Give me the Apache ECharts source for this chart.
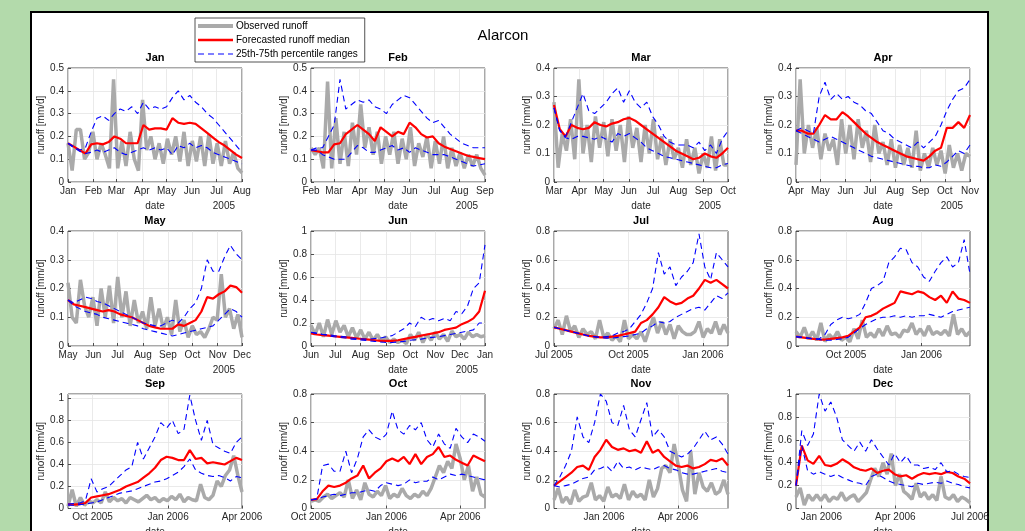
<!DOCTYPE html>
<html><head><meta charset="utf-8">
<script src="https://cdn.jsdelivr.net/npm/echarts@6/dist/echarts.min.js"></script>
<style>
html,body{margin:0;padding:0;width:1025px;height:531px;overflow:hidden;background:#b3daab;}
#frame{position:absolute;left:30px;top:11px;width:955px;height:560px;border:2px solid #000;background:#fff;}
#chart{position:absolute;left:0;top:0;width:1025px;height:531px;}
</style></head><body>
<div id="frame"></div><div id="chart"></div>
<script>
// ---------- DATA ----------
const panelNames = ['Jan','Feb','Mar','Apr','May','Jun','Jul','Aug','Sep','Oct','Nov','Dec'];
const panelStart = ['2005-01-01','2005-02-01','2005-03-01','2005-04-01','2005-05-01','2005-06-01','2005-07-01','2005-08-01','2005-09-01','2005-10-01','2005-11-01','2005-12-01'];
const panelEnd   = ['2005-08-01','2005-09-01','2005-10-01','2005-11-01','2005-12-01','2006-01-01','2006-02-01','2006-03-01','2006-04-01','2006-05-01','2006-06-01','2006-07-01'];
const yMax  = [0.5,0.5,0.4,0.4,0.4,1,0.8,0.8,1.04,0.8,0.8,1];
const yStep = [0.1,0.1,0.1,0.1,0.1,0.2,0.2,0.2,0.2,0.2,0.2,0.2];
const yearLabel = ['2005','2005','2005','2005','2005','2005','','','','','',''];
const legendNames = ['Observed runoff','Forecasted runoff median','25th-75th percentile ranges'];
const mainTitle = 'Alarcon';
const xName = 'date';
const yName = 'runoff [mm/d]';

const xTicks_Jan = ['2005-01-01','2005-02-01','2005-03-01','2005-04-01','2005-05-01','2005-06-01','2005-07-01','2005-08-01'];
const xLabels_Jan = ['Jan','Feb','Mar','Apr','May','Jun','Jul','Aug'];
const xTicks_Feb = ['2005-02-01','2005-03-01','2005-04-01','2005-05-01','2005-06-01','2005-07-01','2005-08-01','2005-09-01'];
const xLabels_Feb = ['Feb','Mar','Apr','May','Jun','Jul','Aug','Sep'];
const xTicks_Mar = ['2005-03-01','2005-04-01','2005-05-01','2005-06-01','2005-07-01','2005-08-01','2005-09-01','2005-10-01'];
const xLabels_Mar = ['Mar','Apr','May','Jun','Jul','Aug','Sep','Oct'];
const xTicks_Apr = ['2005-04-01','2005-05-01','2005-06-01','2005-07-01','2005-08-01','2005-09-01','2005-10-01','2005-11-01'];
const xLabels_Apr = ['Apr','May','Jun','Jul','Aug','Sep','Oct','Nov'];
const xTicks_May = ['2005-05-01','2005-06-01','2005-07-01','2005-08-01','2005-09-01','2005-10-01','2005-11-01','2005-12-01'];
const xLabels_May = ['May','Jun','Jul','Aug','Sep','Oct','Nov','Dec'];
const xTicks_Jun = ['2005-06-01','2005-07-01','2005-08-01','2005-09-01','2005-10-01','2005-11-01','2005-12-01','2006-01-01'];
const xLabels_Jun = ['Jun','Jul','Aug','Sep','Oct','Nov','Dec','Jan'];
const xTicks_Jul = ['2005-07-01','2005-10-01','2006-01-01'];
const xLabels_Jul = ['Jul 2005','Oct 2005','Jan 2006'];
const xTicks_Aug = ['2005-10-01','2006-01-01'];
const xLabels_Aug = ['Oct 2005','Jan 2006'];
const xTicks_Sep = ['2005-10-01','2006-01-01','2006-04-01'];
const xLabels_Sep = ['Oct 2005','Jan 2006','Apr 2006'];
const xTicks_Oct = ['2005-10-01','2006-01-01','2006-04-01'];
const xLabels_Oct = ['Oct 2005','Jan 2006','Apr 2006'];
const xTicks_Nov = ['2006-01-01','2006-04-01'];
const xLabels_Nov = ['Jan 2006','Apr 2006'];
const xTicks_Dec = ['2006-01-01','2006-04-01','2006-07-01'];
const xLabels_Dec = ['Jan 2006','Apr 2006','Jul 2006'];

// values sampled evenly across each panel's date range
const obs_Jan = [0.17,0.05,0.23,0.23,0.10,0.13,0.22,0.10,0.17,0.12,0.06,0.45,0.06,0.18,0.07,0.22,0.10,0.05,0.36,0.14,0.20,0.10,0.17,0.08,0.19,0.12,0.20,0.09,0.22,0.07,0.18,0.09,0.20,0.07,0.21,0.08,0.17,0.07,0.18,0.08,0.13,0.06,0.04];
const med_Jan = [0.17,0.155,0.14,0.125,0.165,0.17,0.165,0.175,0.20,0.19,0.17,0.17,0.17,0.25,0.23,0.235,0.235,0.23,0.28,0.26,0.255,0.26,0.255,0.235,0.215,0.195,0.175,0.16,0.14,0.12,0.105];
const p75_Jan = [0.17,0.155,0.14,0.15,0.22,0.28,0.29,0.27,0.30,0.32,0.31,0.33,0.30,0.35,0.32,0.33,0.32,0.33,0.37,0.40,0.36,0.38,0.35,0.33,0.30,0.28,0.25,0.22,0.19,0.16,0.13];
const p25_Jan = [0.17,0.15,0.135,0.125,0.13,0.14,0.13,0.14,0.15,0.13,0.12,0.13,0.14,0.15,0.14,0.15,0.14,0.15,0.12,0.16,0.15,0.17,0.15,0.16,0.15,0.13,0.12,0.11,0.10,0.09,0.08];

const obs_Feb = [0.15,0.12,0.15,0.06,0.44,0.06,0.28,0.08,0.22,0.07,0.26,0.12,0.34,0.15,0.24,0.12,0.22,0.08,0.20,0.12,0.22,0.08,0.19,0.10,0.24,0.07,0.17,0.11,0.20,0.06,0.18,0.08,0.20,0.06,0.15,0.07,0.13,0.06,0.12,0.07,0.12,0.06,0.03];
const med_Feb = [0.14,0.135,0.13,0.13,0.165,0.17,0.21,0.23,0.25,0.23,0.21,0.18,0.24,0.22,0.20,0.22,0.21,0.26,0.24,0.21,0.195,0.20,0.17,0.155,0.145,0.135,0.125,0.115,0.11,0.105,0.10];
const p75_Feb = [0.14,0.15,0.15,0.20,0.25,0.45,0.32,0.34,0.36,0.35,0.36,0.33,0.32,0.30,0.34,0.36,0.38,0.37,0.34,0.31,0.28,0.26,0.27,0.24,0.21,0.19,0.17,0.16,0.15,0.15,0.15];
const p25_Feb = [0.14,0.14,0.12,0.11,0.10,0.10,0.10,0.13,0.16,0.15,0.13,0.13,0.14,0.15,0.16,0.14,0.15,0.13,0.15,0.14,0.13,0.12,0.12,0.12,0.11,0.10,0.09,0.08,0.07,0.075,0.08];

const obs_Mar = [0.28,0.05,0.17,0.11,0.22,0.08,0.36,0.10,0.20,0.07,0.23,0.12,0.21,0.09,0.22,0.11,0.20,0.07,0.23,0.12,0.19,0.07,0.20,0.10,0.22,0.08,0.16,0.06,0.15,0.08,0.12,0.05,0.15,0.06,0.12,0.03,0.10,0.05,0.16,0.04,0.15,0.06,0.06];
const med_Mar = [0.27,0.185,0.16,0.20,0.19,0.185,0.19,0.21,0.20,0.195,0.205,0.21,0.22,0.225,0.215,0.20,0.185,0.17,0.155,0.14,0.125,0.11,0.10,0.09,0.08,0.085,0.10,0.09,0.085,0.10,0.12];
const p75_Mar = [0.26,0.18,0.16,0.21,0.26,0.31,0.25,0.24,0.26,0.28,0.31,0.33,0.28,0.32,0.28,0.26,0.28,0.23,0.20,0.16,0.14,0.13,0.13,0.13,0.12,0.14,0.11,0.13,0.10,0.15,0.18];
const p25_Mar = [0.26,0.18,0.155,0.15,0.16,0.16,0.155,0.15,0.16,0.15,0.14,0.17,0.16,0.17,0.155,0.14,0.12,0.11,0.10,0.09,0.085,0.08,0.075,0.07,0.065,0.06,0.055,0.05,0.05,0.06,0.065];

const obs_Apr = [0.06,0.36,0.10,0.20,0.12,0.19,0.08,0.17,0.11,0.15,0.06,0.22,0.10,0.20,0.08,0.22,0.12,0.18,0.07,0.20,0.10,0.14,0.06,0.15,0.05,0.13,0.06,0.12,0.05,0.18,0.04,0.10,0.05,0.12,0.06,0.11,0.03,0.13,0.05,0.10,0.04,0.10,0.09];
const med_Apr = [0.18,0.18,0.17,0.17,0.20,0.235,0.22,0.22,0.245,0.23,0.21,0.19,0.17,0.155,0.14,0.13,0.12,0.11,0.10,0.09,0.085,0.08,0.075,0.09,0.11,0.12,0.19,0.19,0.21,0.19,0.235];
const p75_Apr = [0.18,0.19,0.18,0.17,0.30,0.35,0.29,0.31,0.29,0.30,0.28,0.27,0.25,0.24,0.21,0.18,0.17,0.15,0.14,0.13,0.12,0.14,0.12,0.14,0.16,0.20,0.25,0.29,0.32,0.33,0.36];
const p25_Apr = [0.18,0.17,0.16,0.15,0.14,0.15,0.16,0.15,0.14,0.13,0.12,0.11,0.10,0.09,0.085,0.08,0.075,0.07,0.065,0.06,0.055,0.055,0.05,0.05,0.06,0.055,0.07,0.09,0.11,0.10,0.13];

const obs_May = [0.22,0.10,0.08,0.23,0.14,0.10,0.17,0.07,0.20,0.10,0.21,0.08,0.24,0.10,0.19,0.07,0.16,0.08,0.12,0.06,0.17,0.07,0.13,0.06,0.10,0.04,0.16,0.05,0.09,0.03,0.07,0.04,0.05,0.03,0.06,0.10,0.09,0.25,0.10,0.13,0.06,0.11,0.03];
const med_May = [0.16,0.145,0.14,0.135,0.13,0.125,0.12,0.125,0.12,0.11,0.105,0.10,0.09,0.08,0.07,0.065,0.06,0.06,0.06,0.075,0.07,0.08,0.09,0.12,0.17,0.165,0.18,0.19,0.21,0.205,0.185];
const p75_May = [0.16,0.15,0.16,0.17,0.165,0.155,0.15,0.14,0.13,0.12,0.11,0.10,0.09,0.08,0.075,0.07,0.07,0.08,0.09,0.08,0.10,0.13,0.15,0.20,0.30,0.26,0.26,0.31,0.35,0.32,0.30];
const p25_May = [0.16,0.14,0.13,0.12,0.115,0.11,0.10,0.095,0.09,0.085,0.08,0.075,0.07,0.06,0.055,0.05,0.045,0.04,0.035,0.04,0.045,0.05,0.055,0.06,0.065,0.07,0.09,0.11,0.13,0.12,0.10];

const obs_Jun = [0.18,0.10,0.20,0.08,0.23,0.10,0.22,0.12,0.18,0.08,0.16,0.07,0.14,0.06,0.12,0.05,0.10,0.04,0.08,0.03,0.06,0.03,0.05,0.02,0.10,0.05,0.12,0.03,0.10,0.05,0.12,0.06,0.10,0.04,0.13,0.08,0.10,0.06,0.12,0.08,0.10,0.08,0.09];
const med_Jun = [0.11,0.10,0.095,0.09,0.085,0.08,0.075,0.07,0.065,0.06,0.055,0.05,0.045,0.045,0.045,0.05,0.06,0.07,0.08,0.09,0.10,0.11,0.12,0.14,0.15,0.16,0.19,0.21,0.24,0.30,0.48];
const p75_Jun = [0.12,0.11,0.10,0.10,0.09,0.085,0.08,0.07,0.065,0.06,0.06,0.065,0.07,0.08,0.09,0.12,0.15,0.20,0.17,0.25,0.22,0.24,0.22,0.24,0.22,0.30,0.28,0.35,0.50,0.55,0.88];
const p25_Jun = [0.12,0.11,0.10,0.09,0.08,0.075,0.07,0.06,0.055,0.05,0.045,0.04,0.035,0.03,0.03,0.035,0.04,0.05,0.055,0.06,0.07,0.075,0.08,0.09,0.10,0.11,0.12,0.13,0.14,0.20,0.20];

const obs_Jul = [0.12,0.18,0.08,0.21,0.10,0.14,0.06,0.12,0.08,0.10,0.05,0.18,0.06,0.09,0.04,0.07,0.03,0.18,0.05,0.08,0.05,0.10,0.03,0.12,0.20,0.09,0.17,0.08,0.15,0.05,0.14,0.10,0.08,0.08,0.10,0.17,0.06,0.12,0.09,0.17,0.08,0.15,0.09];
const med_Jul = [0.13,0.12,0.11,0.10,0.09,0.08,0.07,0.065,0.06,0.06,0.065,0.07,0.08,0.09,0.10,0.16,0.18,0.22,0.27,0.34,0.31,0.29,0.30,0.33,0.35,0.40,0.46,0.44,0.46,0.43,0.40];
const p75_Jul = [0.13,0.12,0.11,0.10,0.09,0.08,0.07,0.065,0.06,0.065,0.07,0.09,0.10,0.12,0.17,0.22,0.30,0.40,0.65,0.50,0.55,0.42,0.48,0.52,0.58,0.78,0.55,0.46,0.65,0.60,0.55];
const p25_Jul = [0.13,0.12,0.11,0.10,0.09,0.08,0.07,0.065,0.06,0.055,0.055,0.06,0.065,0.07,0.08,0.09,0.12,0.14,0.17,0.16,0.17,0.20,0.22,0.24,0.26,0.27,0.25,0.30,0.35,0.33,0.37];

const obs_Aug = [0.10,0.06,0.13,0.05,0.10,0.04,0.16,0.03,0.08,0.05,0.10,0.04,0.06,0.03,0.12,0.05,0.18,0.06,0.09,0.06,0.12,0.07,0.14,0.08,0.09,0.06,0.11,0.10,0.16,0.08,0.12,0.07,0.14,0.08,0.10,0.08,0.11,0.07,0.22,0.08,0.12,0.07,0.10];
const med_Aug = [0.065,0.06,0.055,0.05,0.045,0.045,0.05,0.055,0.06,0.07,0.10,0.13,0.20,0.21,0.23,0.26,0.28,0.30,0.38,0.37,0.36,0.38,0.37,0.34,0.32,0.35,0.30,0.38,0.33,0.32,0.30];
const p75_Aug = [0.065,0.06,0.055,0.05,0.05,0.08,0.15,0.18,0.20,0.19,0.20,0.22,0.30,0.40,0.42,0.45,0.58,0.62,0.68,0.67,0.58,0.55,0.48,0.45,0.52,0.58,0.62,0.55,0.58,0.74,0.50];
const p25_Aug = [0.065,0.06,0.055,0.05,0.045,0.04,0.04,0.045,0.05,0.06,0.09,0.12,0.15,0.17,0.19,0.20,0.20,0.21,0.20,0.21,0.20,0.21,0.21,0.22,0.21,0.20,0.22,0.24,0.25,0.26,0.27];

const obs_Sep = [0.02,0.17,0.02,0.10,0.03,0.07,0.05,0.08,0.05,0.15,0.06,0.10,0.07,0.09,0.05,0.10,0.08,0.06,0.09,0.12,0.08,0.10,0.06,0.09,0.07,0.11,0.08,0.13,0.06,0.10,0.08,0.07,0.22,0.10,0.08,0.12,0.25,0.20,0.30,0.35,0.48,0.30,0.15];
const med_Sep = [0.04,0.035,0.04,0.05,0.10,0.11,0.12,0.13,0.15,0.17,0.20,0.22,0.24,0.28,0.32,0.37,0.44,0.47,0.46,0.44,0.44,0.53,0.45,0.46,0.41,0.42,0.41,0.40,0.43,0.46,0.44];
const p75_Sep = [0.04,0.045,0.05,0.07,0.27,0.15,0.18,0.20,0.25,0.30,0.35,0.38,0.60,0.45,0.55,0.65,0.78,0.73,0.80,0.68,0.72,1.03,0.80,0.62,0.80,0.58,0.55,0.52,0.50,0.60,0.65];
const p25_Sep = [0.03,0.03,0.035,0.04,0.05,0.06,0.08,0.10,0.12,0.14,0.15,0.16,0.18,0.20,0.22,0.24,0.25,0.27,0.30,0.33,0.38,0.45,0.35,0.32,0.30,0.29,0.30,0.28,0.25,0.29,0.28];

const obs_Oct = [0.05,0.06,0.05,0.08,0.10,0.07,0.09,0.11,0.08,0.20,0.07,0.13,0.06,0.18,0.10,0.08,0.12,0.09,0.16,0.07,0.10,0.08,0.14,0.09,0.07,0.10,0.08,0.12,0.09,0.14,0.22,0.30,0.25,0.33,0.28,0.45,0.35,0.20,0.30,0.12,0.22,0.10,0.08];
const med_Oct = [0.06,0.065,0.12,0.16,0.15,0.16,0.18,0.21,0.23,0.30,0.21,0.25,0.28,0.33,0.35,0.33,0.36,0.31,0.38,0.31,0.36,0.38,0.43,0.36,0.37,0.34,0.32,0.30,0.37,0.35,0.33];
const p75_Oct = [0.06,0.07,0.30,0.31,0.26,0.26,0.40,0.25,0.35,0.50,0.55,0.50,0.48,0.52,0.68,0.55,0.52,0.58,0.55,0.60,0.48,0.43,0.52,0.45,0.42,0.56,0.50,0.46,0.52,0.50,0.47];
const p25_Oct = [0.06,0.065,0.08,0.09,0.10,0.09,0.10,0.11,0.11,0.12,0.13,0.12,0.16,0.18,0.17,0.16,0.17,0.20,0.18,0.19,0.19,0.22,0.20,0.22,0.24,0.23,0.24,0.23,0.22,0.21,0.20];

const obs_Nov = [0.06,0.14,0.04,0.08,0.03,0.13,0.05,0.08,0.09,0.18,0.06,0.09,0.05,0.15,0.08,0.10,0.07,0.17,0.06,0.12,0.08,0.10,0.06,0.20,0.08,0.14,0.28,0.30,0.25,0.45,0.30,0.13,0.05,0.40,0.10,0.25,0.15,0.12,0.18,0.10,0.12,0.20,0.10];
const med_Nov = [0.16,0.19,0.22,0.25,0.29,0.30,0.27,0.36,0.41,0.48,0.43,0.41,0.42,0.40,0.41,0.39,0.47,0.39,0.41,0.36,0.33,0.30,0.29,0.30,0.28,0.29,0.31,0.34,0.33,0.35,0.30];
const p75_Nov = [0.16,0.22,0.30,0.40,0.64,0.50,0.46,0.60,0.80,0.75,0.60,0.58,0.72,0.55,0.50,0.62,0.74,0.50,0.55,0.50,0.40,0.38,0.36,0.38,0.42,0.48,0.54,0.48,0.50,0.45,0.38];
const p25_Nov = [0.16,0.15,0.16,0.17,0.19,0.21,0.22,0.27,0.28,0.30,0.26,0.33,0.28,0.29,0.27,0.29,0.28,0.27,0.29,0.30,0.28,0.27,0.25,0.24,0.24,0.25,0.26,0.27,0.28,0.26,0.25];

const obs_Dec = [0.10,0.18,0.03,0.12,0.07,0.12,0.07,0.12,0.06,0.10,0.08,0.14,0.07,0.10,0.12,0.06,0.10,0.14,0.25,0.35,0.28,0.40,0.30,0.48,0.20,0.30,0.15,0.12,0.08,0.22,0.10,0.14,0.08,0.12,0.07,0.28,0.10,0.08,0.12,0.06,0.10,0.08,0.05];
const med_Dec = [0.20,0.55,0.42,0.39,0.46,0.38,0.37,0.39,0.43,0.40,0.36,0.34,0.33,0.35,0.31,0.33,0.34,0.30,0.28,0.29,0.26,0.29,0.31,0.30,0.31,0.30,0.32,0.31,0.28,0.26,0.22];
const p75_Dec = [0.20,0.68,0.55,0.65,1.00,0.85,0.93,0.80,0.60,0.55,0.50,0.58,0.50,0.60,0.52,0.45,0.38,0.48,0.40,0.46,0.38,0.38,0.35,0.36,0.34,0.40,0.32,0.33,0.30,0.28,0.27];
const p25_Dec = [0.20,0.55,0.33,0.30,0.32,0.30,0.28,0.30,0.27,0.25,0.23,0.22,0.20,0.28,0.30,0.27,0.24,0.22,0.21,0.20,0.19,0.22,0.21,0.22,0.23,0.22,0.24,0.22,0.21,0.19,0.18];

// ---------- BUILD ----------
const OBS = [obs_Jan,obs_Feb,obs_Mar,obs_Apr,obs_May,obs_Jun,obs_Jul,obs_Aug,obs_Sep,obs_Oct,obs_Nov,obs_Dec];
const MED = [med_Jan,med_Feb,med_Mar,med_Apr,med_May,med_Jun,med_Jul,med_Aug,med_Sep,med_Oct,med_Nov,med_Dec];
const P75 = [p75_Jan,p75_Feb,p75_Mar,p75_Apr,p75_May,p75_Jun,p75_Jul,p75_Aug,p75_Sep,p75_Oct,p75_Nov,p75_Dec];
const P25 = [p25_Jan,p25_Feb,p25_Mar,p25_Apr,p25_May,p25_Jun,p25_Jul,p25_Aug,p25_Sep,p25_Oct,p25_Nov,p25_Dec];
const XT = [xTicks_Jan,xTicks_Feb,xTicks_Mar,xTicks_Apr,xTicks_May,xTicks_Jun,xTicks_Jul,xTicks_Aug,xTicks_Sep,xTicks_Oct,xTicks_Nov,xTicks_Dec];
const XL = [xLabels_Jan,xLabels_Feb,xLabels_Mar,xLabels_Apr,xLabels_May,xLabels_Jun,xLabels_Jul,xLabels_Aug,xLabels_Sep,xLabels_Oct,xLabels_Nov,xLabels_Dec];

const EPOCH = Date.UTC(2005,0,1);
function day(s){ return Math.round((Date.parse(s+'T00:00:00Z') - EPOCH)/86400000); }

const colLeft = [68,311,554,796];
const rowTop = [68,231,394];
const rowH = [114,115,114.5];
const plotW = 174;
const FONT = '"Liberation Sans", Arial, Helvetica, sans-serif';
const TXT = '#262626';
const GRAY = '#aaaaaa', RED = '#ff0000', BLUE = '#0000ff';

const grids=[], xAxes=[], yAxes=[], series=[], titles=[], graphics=[];
titles.push({text: mainTitle, left: 503, top: 28, textAlign:'center', padding:0,
  textStyle:{fontSize:15, fontWeight:'normal', color:'#000', fontFamily:FONT}});

for (let k=0;k<12;k++){
  const r = Math.floor(k/4), c = k%4;
  const L = colLeft[c], T = rowTop[r], H = rowH[r];
  const s = day(panelStart[k]), e = day(panelEnd[k]);
  const tickDays = XT[k].map(day);
  const lab = {}; tickDays.forEach((d,i)=>{ lab[d] = XL[k][i]; });
  grids.push({left:L, top:T, width:plotW, height:H, show:true, borderColor:'#262626', borderWidth:0.8,
    backgroundColor:'#fff', containLabel:false, outerBoundsMode:'none'});
  xAxes.push({type:'value', gridIndex:k, min:s, max:e,
    axisLine:{show:false},
    axisTick:{show:true, inside:true, length:3, customValues:tickDays, lineStyle:{color:TXT, width:0.8}},
    axisLabel:{customValues:tickDays, formatter:(v)=> lab[Math.round(v)] || '', fontSize:10, color:TXT, margin:4, fontFamily:FONT, showMinLabel:true, showMaxLabel:true, hideOverlap:false},
    splitLine:{show:true, lineStyle:{color:'#e4e4e4', width:0.8}},
    name: xName, nameLocation:'middle', nameGap:19,
    nameTextStyle:{fontSize:10, color:TXT, fontFamily:FONT}
  });
  const rem = yMax[k] / yStep[k];
  yAxes.push({type:'value', gridIndex:k, min:0, max:yMax[k], interval:yStep[k],
    axisLine:{show:false},
    axisTick:{show:true, inside:true, length:3, lineStyle:{color:TXT, width:0.8}},
    axisLabel:{fontSize:10, color:TXT, margin:4, fontFamily:FONT, showMaxLabel: Math.abs(rem - Math.round(rem)) < 1e-6},
    splitLine:{show:true, lineStyle:{color:'#e4e4e4', width:0.8}},
    name: yName, nameLocation:'middle', nameGap:20, nameRotate:90,
    nameTextStyle:{fontSize:10, color:TXT, fontFamily:FONT}
  });
  const toXY = arr => arr.map((v,i)=>[s + i*(e-s)/(arr.length-1), v]);
  const base = {type:'line', xAxisIndex:k, yAxisIndex:k, symbol:'none', showSymbol:false, animation:false, silent:true};
  series.push(Object.assign({}, base, {name:legendNames[0], data:toXY(OBS[k]), lineStyle:{color:GRAY, width:3.5}, itemStyle:{color:GRAY}, z:2}));
  series.push(Object.assign({}, base, {name:legendNames[1], data:toXY(MED[k]), lineStyle:{color:RED, width:2.2}, itemStyle:{color:RED}, z:3}));
  series.push(Object.assign({}, base, {name:legendNames[2], data:toXY(P25[k]), lineStyle:{color:BLUE, width:1.1, type:[6,4]}, itemStyle:{color:BLUE}, z:4}));
  series.push(Object.assign({}, base, {name:legendNames[2], data:toXY(P75[k]), lineStyle:{color:BLUE, width:1.1, type:[6,4]}, itemStyle:{color:BLUE}, z:4}));
  titles.push({text: panelNames[k], left: L + plotW/2, top: T - 16, textAlign:'center', padding:0,
    textStyle:{fontSize:11, fontWeight:'bold', color:'#000', fontFamily:FONT}});
  if (yearLabel[k]) {
    graphics.push({type:'text', right: 1025 - (L + plotW - 7), top: T + H + 19,
      style:{text: yearLabel[k], fontSize:10, fill:TXT, fontFamily:FONT}});
  }
}

const chart = echarts.init(document.getElementById('chart'), null, {renderer:'canvas'});
chart.setOption({
  backgroundColor:'transparent',
  animation:false,
  title: titles,
  legend: {
    data: [
      {name: legendNames[0], lineStyle:{color:GRAY, width:4, type:'solid'}},
      {name: legendNames[1], lineStyle:{color:RED, width:2.5, type:'solid'}},
      {name: legendNames[2], lineStyle:{color:BLUE, width:1.2, type:[6,4]}}
    ],
    orient:'vertical', left:195, top:18, padding:[3,7,3,1], itemGap:4,
    itemWidth:35, itemHeight:12, backgroundColor:'#fff', borderColor:'#262626', borderWidth:0.8, borderRadius:0,
    itemStyle:{opacity:0},
    textStyle:{fontSize:10, color:'#000', fontFamily:FONT, padding:[0,0,0,-2]}, selectedMode:false},
  grid: grids, xAxis: xAxes, yAxis: yAxes, series: series,
  graphic: graphics
});
</script>
</body></html>
